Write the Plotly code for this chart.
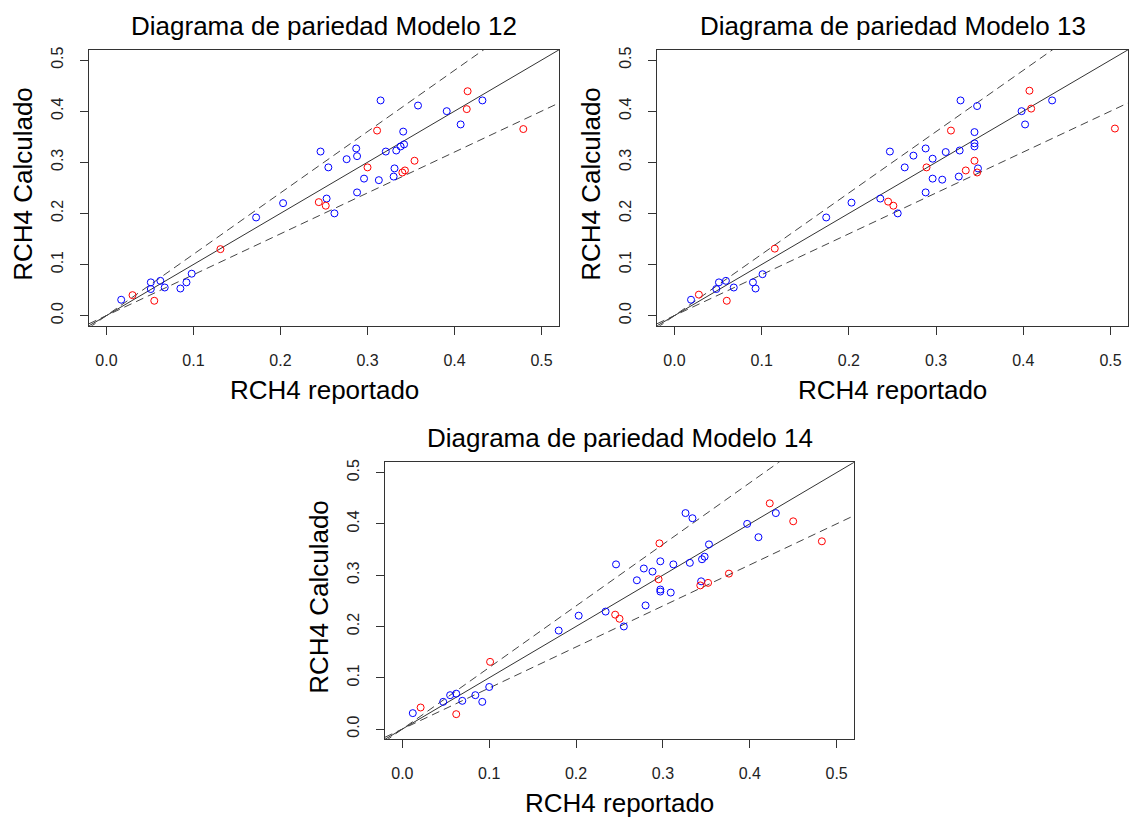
import plotly.graph_objects as go

# Reported vs. calculated RCH4 for each model (train set, test set)
m12_train_rep = [0.017, 0.051, 0.051, 0.062, 0.067, 0.085, 0.092, 0.098, 0.172, 0.203, 0.246, 0.255,
                 0.253, 0.262, 0.276, 0.287, 0.288, 0.288, 0.296, 0.313, 0.315, 0.321, 0.331, 0.330,
                 0.333, 0.338, 0.342, 0.341, 0.358, 0.391, 0.407, 0.432]
m12_train_calc = [0.031, 0.065, 0.052, 0.068, 0.055, 0.053, 0.065, 0.082, 0.192, 0.220, 0.321, 0.290,
                  0.229, 0.200, 0.306, 0.327, 0.312, 0.241, 0.268, 0.265, 0.421, 0.321, 0.288, 0.272,
                  0.323, 0.331, 0.335, 0.360, 0.411, 0.400, 0.374, 0.421]
m12_test_rep = [0.030, 0.055, 0.131, 0.244, 0.252, 0.300, 0.311, 0.340, 0.343, 0.354, 0.415, 0.414, 0.479]
m12_test_calc = [0.040, 0.029, 0.130, 0.222, 0.215, 0.290, 0.362, 0.280, 0.284, 0.303, 0.439, 0.404, 0.365]

m13_train_rep = [0.019, 0.048, 0.051, 0.059, 0.068, 0.090, 0.093, 0.101, 0.174, 0.203, 0.236, 0.247,
                 0.256, 0.264, 0.274, 0.288, 0.288, 0.296, 0.296, 0.307, 0.311, 0.326, 0.327, 0.328,
                 0.344, 0.344, 0.344, 0.348, 0.347, 0.398, 0.402, 0.433]
m13_train_calc = [0.031, 0.052, 0.065, 0.068, 0.055, 0.065, 0.053, 0.081, 0.192, 0.221, 0.229, 0.321,
                  0.200, 0.290, 0.313, 0.327, 0.241, 0.307, 0.268, 0.266, 0.320, 0.272, 0.323, 0.421,
                  0.359, 0.337, 0.331, 0.288, 0.410, 0.400, 0.374, 0.421]
m13_test_rep = [0.028, 0.060, 0.115, 0.245, 0.251, 0.289, 0.317, 0.334, 0.344, 0.347, 0.407, 0.409, 0.505]
m13_test_calc = [0.041, 0.029, 0.131, 0.223, 0.215, 0.290, 0.362, 0.284, 0.303, 0.280, 0.440, 0.405, 0.366]

m14_train_rep = [0.012, 0.047, 0.055, 0.062, 0.069, 0.084, 0.092, 0.100, 0.180, 0.203, 0.234, 0.246,
                 0.255, 0.270, 0.278, 0.280, 0.288, 0.297, 0.297, 0.297, 0.309, 0.312, 0.326, 0.331,
                 0.334, 0.344, 0.345, 0.348, 0.353, 0.397, 0.410, 0.430]
m14_train_calc = [0.031, 0.053, 0.066, 0.069, 0.055, 0.066, 0.053, 0.082, 0.192, 0.221, 0.229, 0.321,
                  0.200, 0.290, 0.313, 0.241, 0.307, 0.327, 0.272, 0.268, 0.266, 0.321, 0.421, 0.324,
                  0.411, 0.288, 0.331, 0.336, 0.360, 0.400, 0.374, 0.421]
m14_test_rep = [0.021, 0.062, 0.101, 0.245, 0.250, 0.295, 0.296, 0.343, 0.352, 0.376, 0.423, 0.450, 0.483]
m14_test_calc = [0.042, 0.029, 0.131, 0.223, 0.215, 0.292, 0.362, 0.280, 0.285, 0.303, 0.440, 0.405, 0.366]

titles = ["Diagrama de pariedad Modelo 12", "Diagrama de pariedad Modelo 13",
          "Diagrama de pariedad Modelo 14"]
x_title = "RCH4 reportado"
y_title = "RCH4 Calculado"
tick_vals = [0.0, 0.1, 0.2, 0.3, 0.4, 0.5]
tick_text = ["0.0", "0.1", "0.2", "0.3", "0.4", "0.5"]
axis_range = [-0.02, 0.52]
line_x = [-0.02, 0.52]          # endpoints for the parity and ±20 % lines
band_factors = [1.2, 0.8]

models = [
    (m12_train_rep, m12_train_calc, m12_test_rep, m12_test_calc),
    (m13_train_rep, m13_train_calc, m13_test_rep, m13_test_calc),
    (m14_train_rep, m14_train_calc, m14_test_rep, m14_test_calc),
]

W, H = 1131, 820
# plot boxes in pixels: (left, top, right, bottom)
boxes = [(89, 47, 559, 324), (657, 47, 1128, 324), (385, 461, 854, 739)]

fig = go.Figure()
font = "Liberation Sans, Arial, sans-serif"
ink = "#222222"

for i, (tr_x, tr_y, te_x, te_y) in enumerate(models):
    k = "" if i == 0 else str(i + 1)
    xa, ya = "x" + k, "y" + k
    # parity line
    fig.add_trace(go.Scatter(x=line_x, y=line_x, mode="lines", xaxis=xa, yaxis=ya,
                             line=dict(color="#333333", width=1), showlegend=False,
                             hoverinfo="skip"))
    for f in band_factors:
        fig.add_trace(go.Scatter(x=line_x, y=[v * f for v in line_x], mode="lines",
                                 xaxis=xa, yaxis=ya,
                                 line=dict(color="#444444", width=1, dash="8px,5px"),
                                 showlegend=False, hoverinfo="skip"))
    fig.add_trace(go.Scatter(x=tr_x, y=tr_y, mode="markers", xaxis=xa, yaxis=ya,
                             marker=dict(symbol="circle-open", size=7, color="#0000ff",
                                         line=dict(width=1)), showlegend=False))
    fig.add_trace(go.Scatter(x=te_x, y=te_y, mode="markers", xaxis=xa, yaxis=ya,
                             marker=dict(symbol="circle-open", size=7, color="#ff0000",
                                         line=dict(width=1)), showlegend=False))

    l, t, r, b = boxes[i]
    common = dict(range=axis_range, tickvals=tick_vals, ticktext=tick_text, ticks="outside",
                  ticklen=8, tickcolor="#333333", showline=True, linecolor="#333333",
                  linewidth=1, mirror=True, showgrid=False, zeroline=False,
                  tickfont=dict(family=font, size=16, color=ink))
    fig.layout["xaxis" + k] = dict(domain=[l / W, r / W], anchor=ya,
                                   ticklabelstandoff=12, **common)
    fig.layout["yaxis" + k] = dict(domain=[1 - b / H, 1 - t / H], anchor=xa,
                                   tickangle=-90, ticklabelstandoff=11, **common)

    cx = (l + r) / 2
    cy = (t + b) / 2
    fig.add_annotation(text=titles[i], x=cx / W, y=1 - (t - 24) / H, xref="paper", yref="paper",
                       showarrow=False, xanchor="center", yanchor="middle",
                       font=dict(family=font, size=26, color="#000000"))
    fig.add_annotation(text=x_title, x=cx / W, y=1 - (b + 64) / H, xref="paper", yref="paper",
                       showarrow=False, xanchor="center", yanchor="middle",
                       font=dict(family=font, size=26, color="#000000"))
    fig.add_annotation(text=y_title, x=(l - 66) / W, y=1 - (cy - 4) / H, xref="paper",
                       yref="paper", showarrow=False, xanchor="center", yanchor="middle",
                       textangle=-90, font=dict(family=font, size=26, color="#000000"))

fig.update_layout(width=W, height=H, margin=dict(l=0, r=0, t=0, b=0),
                  paper_bgcolor="white", plot_bgcolor="white", showlegend=False)

fig.write_html("out.html")
